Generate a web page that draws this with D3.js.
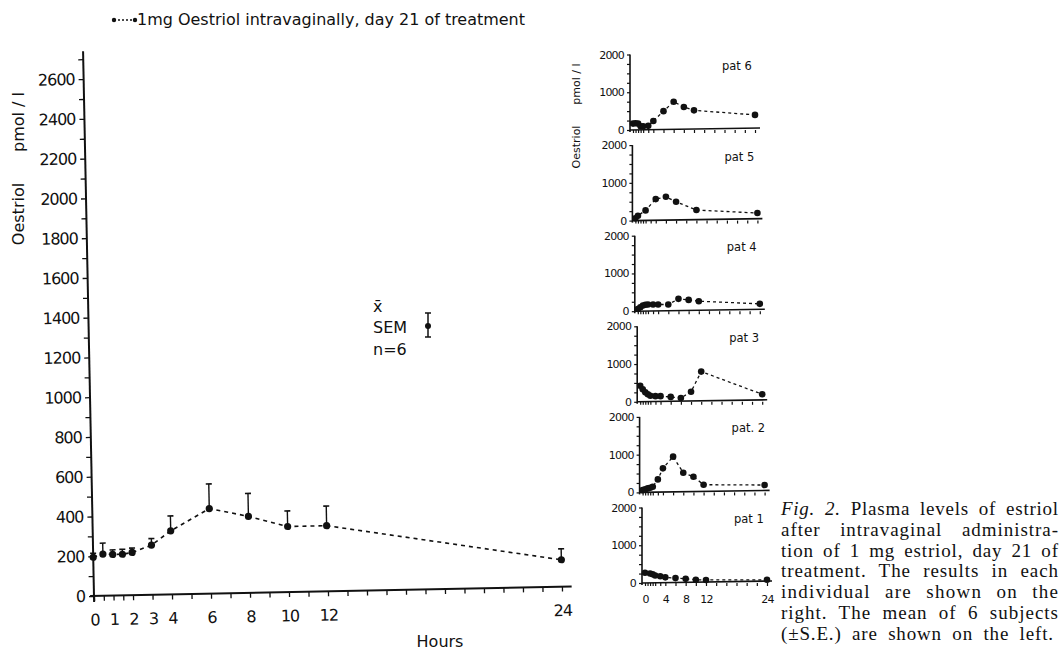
<!DOCTYPE html>
<html>
<head>
<meta charset="utf-8">
<title>Oestriol after intravaginal administration</title>
<script src="https://cdnjs.cloudflare.com/ajax/libs/d3/7.8.5/d3.min.js"></script>
<style>
  body { margin: 0; background: #fff; }
  svg text { font-family: "DejaVu Sans", sans-serif; fill: #111; }
  svg text.serif { font-family: "Liberation Serif", "DejaVu Serif", serif; }
</style>
</head>
<body>
<script>
var w = 1063, h = 652;

// mean of 6 subjects (left plot)
var hours = [0, 0.5, 1, 1.5, 2, 3, 4, 6, 8, 10, 12, 24];
var meanVals = [195, 210, 207, 207, 215, 250, 320, 428, 385, 330, 330, 135];
var semVals = [20, 55, 23, 25, 22, 33, 75, 124, 115, 78, 99, 55];
var xTicks = [0, 0.5, 1, 1.5, 2].concat(d3.range(3, 25));
var xTickLabels = [0, 1, 2, 3, 4, 6, 8, 10, 12, 24];
var yTickLabels = d3.range(0, 2601, 200);

// single patients (right column, top to bottom)
var patNames = ["pat 6", "pat 5", "pat 4", "pat 3", "pat. 2", "pat 1"];
var pat6Hours = [0, 0.5, 1, 1.5, 2, 3, 4, 6, 8, 10, 12, 24];
var pat6Vals = [170, 180, 170, 100, 100, 110, 240, 500, 750, 610, 520, 400];
var pat5Hours = [0, 0.5, 2, 4, 6, 8, 12, 24];
var pat5Vals = [60, 130, 270, 570, 630, 500, 280, 200];
var pat4Hours = [0, 0.5, 1, 1.5, 2, 3, 4, 6, 8, 10, 12, 24];
var pat4Vals = [60, 106, 150, 170, 177, 177, 177, 177, 327, 300, 265, 195];
var pat3Hours = [0, 0.5, 1, 1.5, 2, 3, 4, 6, 8, 10, 12, 24];
var pat3Vals = [425, 330, 250, 200, 160, 150, 150, 130, 100, 265, 800, 200];
var pat2Hours = [0, 0.5, 1, 1.5, 2, 3, 4, 6, 8, 10, 12, 24];
var pat2Vals = [60, 80, 106, 124, 150, 345, 637, 947, 522, 416, 204, 195];
var pat1Hours = [0, 1, 1.5, 2, 3, 4, 6, 8, 10, 12, 24];
var pat1Vals = [270, 250, 230, 200, 180, 150, 130, 110, 85, 80, 85];
var patTicks = [0, 0.5, 1, 1.5, 2, 3].concat(d3.range(4, 25, 2));
var patXLabels = [0, 4, 8, 12, 24];

var caption = [
  "after intravaginal administra-",
  "tion of 1 mg estriol, day 21 of",
  "treatment. The results in each",
  "individual are shown on the",
  "right. The mean of 6 subjects",
  "(\u00B1S.E.) are shown on the left."
];

var svg = d3.select("body").append("svg")
  .attr("width", w)
  .attr("height", h);

// ---------- main plot (scan is slightly rotated) ----------
var ox = 94, oy = 596;
var x = d3.scaleLinear().domain([0, 24]).range([ox, 562]);
var y = d3.scaleLinear().domain([0, 2600]).range([oy, 79]);

var main = svg.append("g")
  .attr("transform", "rotate(-1.15," + ox + "," + oy + ")");

var yAx = main.append("g")
  .attr("transform", "translate(" + ox + ",0)")
  .call(d3.axisLeft(y)
    .tickValues(d3.range(0, 2701, 100))
    .tickSize(5)
    .tickPadding(4)
    .tickFormat(function(d) { return yTickLabels.indexOf(d) >= 0 ? d : ""; }));
yAx.select(".domain").remove();
yAx.selectAll("text").attr("font-size", 16).attr("letter-spacing", -1)
  .attr("font-family", null).attr("fill", "#111");
yAx.selectAll("line").attr("stroke", "#111").attr("stroke-width", 1.3);
main.append("line")
  .attr("x1", ox).attr("x2", ox)
  .attr("y1", y(-30)).attr("y2", y(2740))
  .attr("stroke", "#111").attr("stroke-width", 2);

var xAx = main.append("g")
  .attr("transform", "translate(0," + oy + ")")
  .call(d3.axisBottom(x)
    .tickValues(xTicks)
    .tickSize(5)
    .tickPadding(13)
    .tickFormat(function(d) { return xTickLabels.indexOf(d) >= 0 ? d : ""; }));
xAx.select(".domain").remove();
xAx.selectAll("text").attr("font-size", 16).attr("letter-spacing", -1)
  .attr("font-family", null).attr("fill", "#111");
xAx.selectAll("line").attr("stroke", "#111").attr("stroke-width", 1.3);
main.append("line")
  .attr("x1", x(-0.2)).attr("x2", x(24.5))
  .attr("y1", oy).attr("y2", oy)
  .attr("stroke", "#111").attr("stroke-width", 2);

var meanData = hours.map(function(d, i) { return {h: d, v: meanVals[i], se: semVals[i]}; });

main.append("path")
  .datum(meanData)
  .attr("fill", "none")
  .attr("stroke", "#111")
  .attr("stroke-width", 1.6)
  .attr("stroke-dasharray", "4,4")
  .attr("d", d3.line().x(function(d) { return x(d.h); }).y(function(d) { return y(d.v); }));

var bars = main.selectAll(".err").data(meanData).enter().append("g").attr("class", "err");
bars.append("line")
  .attr("x1", function(d) { return x(d.h); })
  .attr("x2", function(d) { return x(d.h); })
  .attr("y1", function(d) { return y(d.v); })
  .attr("y2", function(d) { return y(d.v + d.se); })
  .attr("stroke", "#111").attr("stroke-width", 1.4);
bars.append("line")
  .attr("x1", function(d) { return x(d.h) - 3; })
  .attr("x2", function(d) { return x(d.h) + 3; })
  .attr("y1", function(d) { return y(d.v + d.se); })
  .attr("y2", function(d) { return y(d.v + d.se); })
  .attr("stroke", "#111").attr("stroke-width", 1.6);
bars.append("circle")
  .attr("cx", function(d) { return x(d.h); })
  .attr("cy", function(d) { return y(d.v); })
  .attr("r", 3.6)
  .attr("fill", "#111");

// legend at the top
svg.append("line")
  .attr("x1", 114).attr("x2", 134).attr("y1", 20).attr("y2", 20)
  .attr("stroke", "#111").attr("stroke-width", 1.5).attr("stroke-dasharray", "2,2");
svg.append("circle").attr("cx", 114).attr("cy", 20).attr("r", 2.2).attr("fill", "#111");
svg.append("circle").attr("cx", 135).attr("cy", 20).attr("r", 2.2).attr("fill", "#111");
svg.append("text")
  .attr("x", 137).attr("y", 25)
  .attr("font-size", 15)
  .attr("textLength", 388)
  .attr("lengthAdjust", "spacingAndGlyphs")
  .text("1mg Oestriol intravaginally, day 21 of  treatment");

// axis titles
svg.append("text")
  .attr("transform", "translate(24,214) rotate(-90)")
  .attr("text-anchor", "middle").attr("font-size", 16)
  .text("Oestriol");
svg.append("text")
  .attr("transform", "translate(24,122) rotate(-90)")
  .attr("text-anchor", "middle").attr("font-size", 16)
  .text("pmol / l");
svg.append("text")
  .attr("x", 440).attr("y", 647)
  .attr("text-anchor", "middle").attr("font-size", 16)
  .text("Hours");

// x-bar / SEM / n=6 key
svg.append("text").attr("x", 373).attr("y", 312).attr("font-size", 16).text("x\u0304");
svg.append("text").attr("x", 373).attr("y", 333).attr("font-size", 16).text("SEM");
svg.append("text").attr("x", 373).attr("y", 355).attr("font-size", 16).text("n=6");
var key = svg.append("g").attr("stroke", "#111").attr("stroke-width", 1.5);
key.append("line").attr("x1", 428).attr("x2", 428).attr("y1", 313).attr("y2", 337);
key.append("line").attr("x1", 425).attr("x2", 431).attr("y1", 313).attr("y2", 313);
key.append("line").attr("x1", 425).attr("x2", 431).attr("y1", 337).attr("y2", 337);
svg.append("circle").attr("cx", 428).attr("cy", 326).attr("r", 3).attr("fill", "#111");

// ---------- single patients ----------
var pats = [
  {name: patNames[0], hrs: pat6Hours, vals: pat6Vals},
  {name: patNames[1], hrs: pat5Hours, vals: pat5Vals},
  {name: patNames[2], hrs: pat4Hours, vals: pat4Vals},
  {name: patNames[3], hrs: pat3Hours, vals: pat3Vals},
  {name: patNames[4], hrs: pat2Hours, vals: pat2Vals},
  {name: patNames[5], hrs: pat1Hours, vals: pat1Vals}
];

pats.forEach(function(p, i) {
  var x0 = 630 + i * 2.4;
  var base = 130 + i * 90.6;
  var px = d3.scaleLinear().domain([0, 24]).range([x0 + 3, x0 + 125]);
  var py = d3.scaleLinear().domain([0, 2000]).range([base, base - 75.5]);
  var g = svg.append("g");

  var ya = g.append("g")
    .attr("transform", "translate(" + x0 + ",0)")
    .call(d3.axisLeft(py)
      .tickValues(d3.range(0, 2001, 250))
      .tickSize(3)
      .tickPadding(3)
      .tickFormat(function(d) { return d % 1000 == 0 ? d : ""; }));
  ya.select(".domain").remove();
  ya.selectAll("text").attr("font-size", 11).attr("letter-spacing", -0.8)
    .attr("font-family", null).attr("fill", "#111");
  ya.selectAll("line").attr("stroke", "#111").attr("stroke-width", 1.2);
  g.append("line").attr("x1", x0).attr("x2", x0)
    .attr("y1", base + 2).attr("y2", py(2000))
    .attr("stroke", "#111").attr("stroke-width", 1.6);

  var xa = g.append("g")
    .attr("transform", "translate(0," + base + ")")
    .call(d3.axisBottom(px)
      .tickValues(patTicks)
      .tickSize(3)
      .tickPadding(9)
      .tickFormat(function(d) { return (i == pats.length - 1 && patXLabels.indexOf(d) >= 0) ? d : ""; }));
  xa.select(".domain").remove();
  xa.selectAll("text").attr("font-size", 11).attr("letter-spacing", -0.8)
    .attr("font-family", null).attr("fill", "#111");
  xa.selectAll("line").attr("stroke", "#111").attr("stroke-width", 1.2);
  g.append("line").attr("x1", x0).attr("x2", x0 + 130)
    .attr("y1", base).attr("y2", base - 2)
    .attr("stroke", "#111").attr("stroke-width", 1.6);

  var pts = p.hrs.map(function(d, k) { return {h: d, v: p.vals[k]}; });
  g.append("path")
    .datum(pts)
    .attr("fill", "none")
    .attr("stroke", "#111")
    .attr("stroke-width", 1.3)
    .attr("stroke-dasharray", "3,3")
    .attr("d", d3.line().x(function(d) { return px(d.h); }).y(function(d) { return py(d.v); }));
  g.selectAll(".pt").data(pts).enter().append("circle")
    .attr("cx", function(d) { return px(d.h); })
    .attr("cy", function(d) { return py(d.v); })
    .attr("r", 3.3)
    .attr("fill", "#111");

  g.append("text")
    .attr("x", x0 + 92).attr("y", base - 60)
    .attr("font-size", 11.5)
    .text(p.name);
});

svg.append("text")
  .attr("transform", "translate(580,147) rotate(-90)")
  .attr("text-anchor", "middle").attr("font-size", 11)
  .text("Oestriol");
svg.append("text")
  .attr("transform", "translate(580,84) rotate(-90)")
  .attr("text-anchor", "middle").attr("font-size", 11)
  .text("pmol / l");

// ---------- caption, justified (letters a bit, word gaps more) ----------
var capW = 277;
function justify(t, width) {
  var txt = t.text();
  var gaps = txt.split(" ").length - 1;
  var natural = t.node().getComputedTextLength();
  if (natural >= width) return;
  var extra = width - natural;
  var ls = extra * 0.5 / (txt.length - 1);
  t.attr("letter-spacing", ls);
  if (gaps > 0) t.attr("word-spacing", (extra * 0.5) / gaps);
}
var cap = svg.append("g");
var first = cap.append("text")
  .attr("class", "serif")
  .attr("x", 781).attr("y", 515)
  .attr("font-size", 19);
first.append("tspan").attr("font-style", "italic").text("Fig. 2.");
first.append("tspan").text(" Plasma levels of estriol");
justify(first, capW);
cap.selectAll(".line").data(caption).enter().append("text")
  .attr("class", "serif")
  .attr("x", 781)
  .attr("y", function(d, i) { return 536 + i * 20.7; })
  .attr("font-size", 19)
  .text(function(d) { return d; })
  .each(function(d, i) { justify(d3.select(this), i == caption.length - 1 ? 272 : capW); });
</script>
</body>
</html>
